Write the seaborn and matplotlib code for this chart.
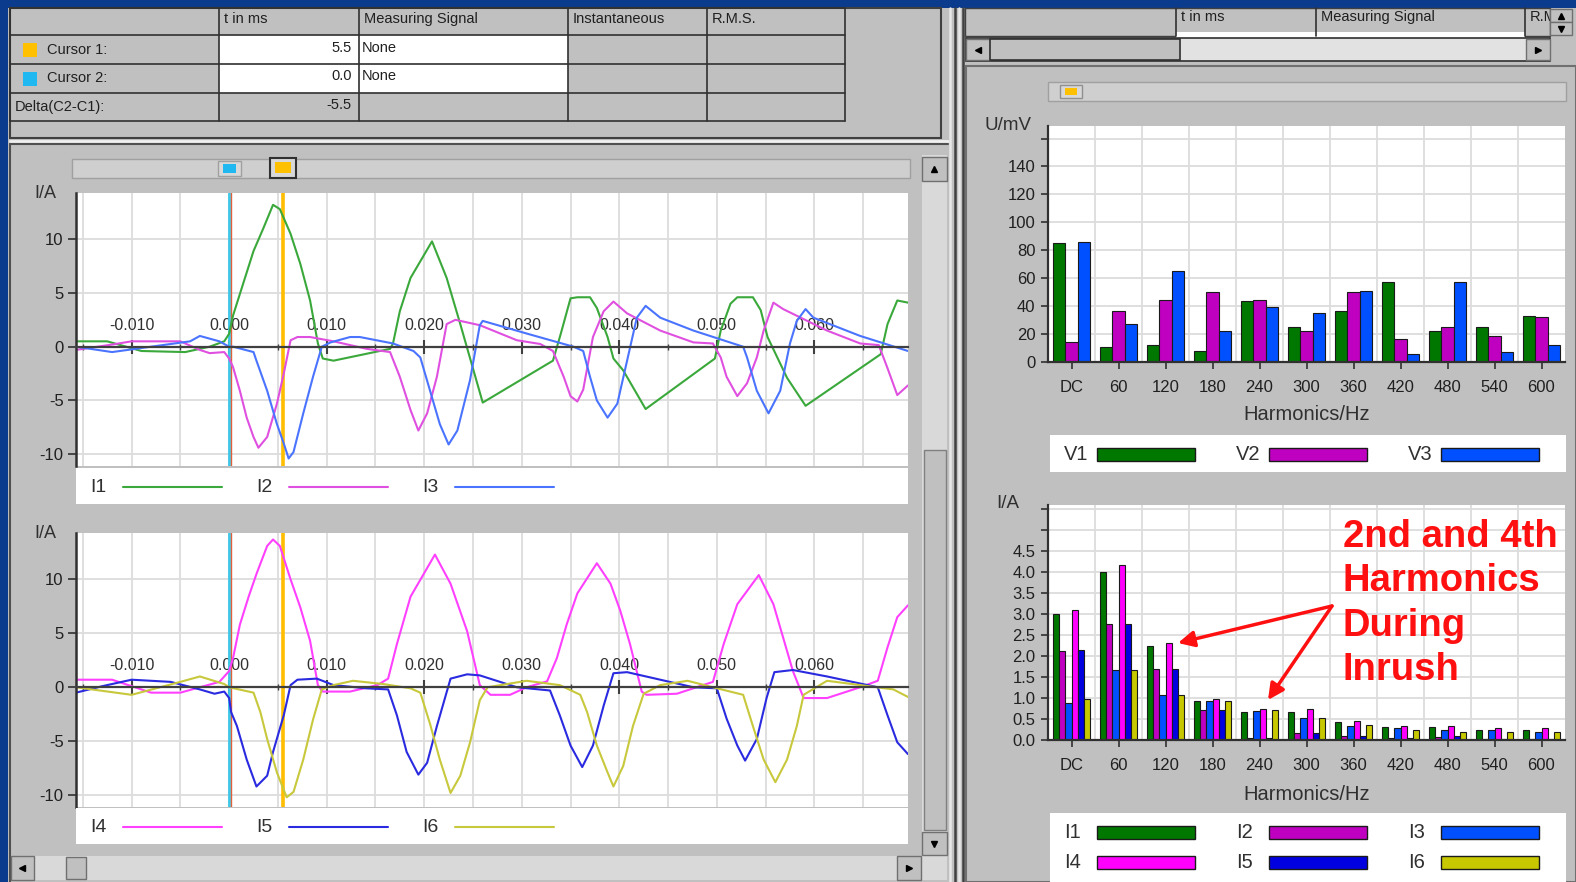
import numpy as np
import pandas as pd
import matplotlib
matplotlib.use('Agg')
import matplotlib.pyplot as plt
import matplotlib.transforms as mtransforms
from matplotlib.patches import Rectangle
import seaborn as sns

sns.set_style('white')
plt.rcParams['font.family'] = ['Liberation Sans', 'DejaVu Sans']
plt.rcParams['axes.unicode_minus'] = False

W, H = 1576, 882
BLUE = '#0b3b8c'
GRAY = '#c0c0c0'
LIGHT = '#d9d9d9'
GRID = '#dcdcdc'

# ---------------- cursor table
table_cols = ['t in ms', 'Measuring Signal', 'Instantaneous', 'R.M.S.']
cursor_names = ['Cursor 1:', 'Cursor 2:', 'Delta(C2-C1):']
cursor_t_ms = [5.5, 0.0, -5.5]
cursor_signal = ['None', 'None', '']
cursor_colors = ['#ffc000', '#20b8f0']

# ---------------- waveforms (t in ms, I in A)
i1_t = [-15.7, -12.5, -9, -4.5, -2, -0.5, 0, 0.4, 1.1, 2.5, 3.5, 4.5, 5.2, 6.3, 7.3, 8.3, 9.1, 9.6, 10.7,
        16.5, 16.8, 17.5, 18.6, 20.8, 22.3, 23.7, 26.0, 33.2, 34.0, 35.0, 35.7, 37.0, 37.7, 38.8, 39.4,
        40.4, 42.7, 49.8, 50.4, 51.4, 52.1, 53.7, 54.5, 55.2, 56.2, 57.2, 59.1, 66.8, 67.5, 68.5, 69.6]
i1_v = [0.5, 0.5, -0.4, -0.5, 0.0, 0.5, 1.2, 2.9, 4.9, 8.9, 11.0, 13.2, 12.8, 10.5, 7.7, 4.3, 0.3, -1.1, -1.3,
        -0.2, 0.3, 3.3, 6.4, 9.8, 6.4, 2.1, -5.2, -1.3, 1.2, 4.5, 4.6, 4.6, 3.6, 0.9, -1.1,
        -2.2, -5.8, -1.1, 1.5, 4.0, 4.6, 4.6, 3.4, 0.9, -1.0, -2.9, -5.5, -0.7, 2.1, 4.3, 4.1]

i2_t = [-15.7, -12, -10, -5, -3, -2, -0.5, 0, 0.4, 1.1, 1.8, 2.5, 3.0, 3.9, 4.9, 5.6, 6.3, 7.0, 8.3, 10.7,
        14.1, 16.5, 17.5, 18.6, 19.4, 20.3, 21.3, 22.3, 23.2, 25.7, 29.5, 31.9, 33.2, 34.3, 35.0, 35.7,
        36.3, 37.3, 38.4, 39.4, 40.8, 44.2, 47.6, 49.6, 50.4, 51.0, 52.1, 53.1, 54.1, 54.8, 55.8, 56.8,
        61.3, 64.7, 66.6, 67.5, 68.5, 69.6]
i2_v = [-0.3, 0.2, 0.5, 0.5, -0.3, -0.6, -0.5, -1.1, -1.9, -4.1, -6.6, -8.4, -9.4, -8.4, -5.3, -2.5, 0.6, 0.9, 0.9, 0.5,
        -0.2, -0.5, -2.8, -5.9, -7.8, -6.2, -2.8, 2.1, 2.5, 2.0, 0.6, 0.25, -0.4, -2.8, -4.6, -5.1,
        -4.0, 0.9, 3.3, 4.2, 3.1, 1.5, 0.4, 0.3, -1.0, -2.8, -4.6, -3.4, -1.0, 1.5, 4.1, 3.5,
        1.5, 0.3, 0.15, -2.0, -4.5, -3.6]

i3_t = [-15.7, -12, -8, -4, -3, -1, 0, 0.4, 2.5, 2.8, 3.9, 4.9, 5.6, 6.1, 6.6, 7.6, 8.6, 9.5, 10.4, 12.4, 13.4,
        16.8, 18.9, 19.6, 20.6, 21.6, 22.5, 23.4, 24.7, 25.7, 26.0, 30.6, 35.3, 36.3, 37.0, 37.7, 38.8,
        39.8, 40.8, 41.8, 42.7, 44.2, 47.6, 52.7, 53.1, 54.1, 55.3, 56.5, 57.5, 58.2, 59.1, 59.9, 64.7, 69.6]
i3_v = [0.0, -0.5, 0.0, 0.5, 1.0, 0.5, 0.0, 0.0, -0.5, -1.3, -4.1, -7.2, -9.0, -10.4, -9.8, -6.2, -2.8, 0.0, 0.4, 0.9, 0.9,
        0.3, -0.4, -1.0, -4.1, -7.2, -9.1, -7.8, -3.1, 2.0, 2.4, 1.2, 0.0, -0.4, -2.8, -5.0, -6.6,
        -5.3, -1.3, 2.7, 3.8, 2.7, 1.5, 0.0, -1.0, -4.1, -6.2, -4.1, 0.3, 2.4, 3.5, 2.7, 1.0, -0.4]

i4_t = [-15.7, -12, -8, -5, -3, -1, 0, 0.4, 1.1, 2.0, 2.8, 3.9, 4.5, 5.2, 6.3, 7.3, 8.3, 9.1, 9.6, 12.4, 15.2,
        16.3, 17.2, 18.6, 21.1, 22.7, 24.4, 25.7, 26.8, 28.8, 30.5, 32.6, 33.6, 34.6, 35.7, 37.7, 39.1,
        40.1, 41.1, 42.3, 42.8, 45.9, 49.6, 50.7, 52.1, 54.3, 55.8, 56.8, 57.8, 58.9, 61.3, 64.7, 66.5,
        67.5, 68.5, 69.6]
i4_v = [0.7, 0.7, -0.5, -0.5, 0.0, 0.5, 1.5, 2.7, 5.8, 8.4, 10.5, 13.1, 13.7, 13.1, 10.0, 7.4, 4.3, 0.2, -0.4, -0.4, 0.2,
        0.8, 4.0, 8.4, 12.3, 9.6, 5.2, 0.2, -0.7, -0.7, 0.0, 0.55, 2.7, 5.8, 8.7, 11.5, 9.6,
        7.1, 4.0, -0.4, -0.7, -0.6, 0.5, 4.0, 7.7, 10.4, 7.7, 4.6, 1.5, -1.0, -1.0, 0.0, 0.6,
        3.7, 6.5, 7.6]

i5_t = [-15.7, -13, -10, -6, -3, -1.5, -0.5, 0, 0.2, 0.8, 1.8, 2.8, 3.9, 4.5, 5.6, 6.3, 7.0, 9.0, 10.7, 14.1,
        16.3, 17.2, 18.2, 19.4, 20.3, 21.3, 22.7, 24.4, 25.7, 29.5, 32.9, 33.9, 35.0, 36.2, 37.3, 38.4,
        39.4, 40.8, 44.2, 47.6, 50.0, 51.0, 52.1, 52.9, 54.1, 55.1, 55.9, 57.8, 61.3, 66.5, 67.5, 68.5, 69.6]
i5_v = [-0.5, 0.1, 0.7, 0.5, -0.2, -0.6, -0.4, -1.0, -2.3, -3.6, -6.7, -9.2, -8.2, -6.0, -2.6, 0.2, 0.7, 0.8, 0.2, -0.1,
        -0.2, -2.6, -6.0, -8.1, -7.0, -3.6, 0.8, 1.2, 1.1, 0.0, -0.3, -2.6, -5.4, -7.4, -5.4, -1.7,
        1.3, 1.4, 0.7, 0.0, -0.1, -2.9, -5.4, -6.8, -4.8, -1.0, 1.4, 1.6, 1.0, 0.0, -2.6, -5.1, -6.2]

i6_t = [-15.7, -10, -5, -3, -0.5, 0, 2.5, 3.2, 3.9, 4.9, 5.9, 6.6, 7.6, 8.6, 9.5, 10.7, 12.7, 15.8, 18.6, 19.6,
        20.6, 21.6, 22.7, 23.7, 24.7, 25.7, 26.5, 30.5, 33.9, 36.0, 36.7, 37.7, 38.8, 39.4, 40.4, 41.4,
        42.5, 44.2, 47.0, 49.6, 52.7, 53.7, 54.8, 56.0, 57.2, 58.2, 58.9, 61.3, 64.7, 68.1, 69.6]
i6_v = [0.0, -0.7, 0.5, 1.0, 0.3, 0.0, -0.5, -2.3, -4.8, -7.9, -10.2, -9.7, -6.7, -3.0, -0.2, 0.2, 0.6, 0.3, -0.1, -0.5,
        -3.4, -6.7, -9.8, -8.2, -5.1, -1.2, 0.0, 0.6, 0.2, -0.7, -2.3, -5.4, -7.9, -9.2, -7.3, -3.6,
        -0.6, 0.2, 0.6, 0.0, -0.7, -3.6, -6.7, -8.8, -6.7, -3.6, -0.7, 0.6, 0.2, -0.2, -0.9]

wave_ticks = [-0.010, 0.000, 0.010, 0.020, 0.030, 0.040, 0.050, 0.060]
wave_ticklabels = ['-0.010', '0.000', '0.010', '0.020', '0.030', '0.040', '0.050', '0.060']
wave_yticks = [-10, -5, 0, 5, 10]

# ---------------- harmonics
harm_labels = ['DC', '60', '120', '180', '240', '300', '360', '420', '480', '540', '600']
v1_h = [85, 11, 12, 8, 43.5, 25, 36.5, 57, 22.5, 25, 33]
v2_h = [14.5, 36.5, 44.5, 50, 44.5, 22.5, 50, 16.5, 25, 18.5, 32]
v3_h = [86, 27, 65.5, 22, 39.5, 35, 51, 6, 57, 7, 12]
i1_h = [3.0, 4.0, 2.25, 0.94, 0.66, 0.66, 0.42, 0.32, 0.32, 0.24, 0.24]
i2_h = [2.11, 2.77, 1.69, 0.72, 0.04, 0.17, 0.10, 0.04, 0.08, 0.02, 0.02]
i3_h = [0.88, 1.67, 1.07, 0.94, 0.70, 0.52, 0.33, 0.28, 0.24, 0.25, 0.20]
i4_h = [3.1, 4.18, 2.32, 0.98, 0.73, 0.73, 0.46, 0.34, 0.34, 0.28, 0.28]
i5_h = [2.15, 2.77, 1.69, 0.72, 0.04, 0.17, 0.10, 0.05, 0.10, 0.03, 0.02]
i6_h = [0.98, 1.67, 1.07, 0.92, 0.72, 0.53, 0.36, 0.24, 0.20, 0.20, 0.20]

bar_colors = {'V1': '#007800', 'V2': '#c000c0', 'V3': '#0050ff',
              'I1': '#007800', 'I2': '#c000c0', 'I3': '#0050ff',
              'I4': '#ff00ff', 'I5': '#0000e0', 'I6': '#c8c800'}
wave_colors = {'I1': '#3aa83a', 'I2': '#e050e0', 'I3': '#4a74ff',
               'I4': '#ff40ff', 'I5': '#2a2ae0', 'I6': '#c8c83c'}


def frac(x0, y0, x1, y1):
    return [x0 / W, 1 - y1 / H, (x1 - x0) / W, (y1 - y0) / H]


fig = plt.figure(figsize=(15.76, 8.82), dpi=100, facecolor=BLUE)
bg = fig.add_axes([0, 0, 1, 1], zorder=0)
bg.set_xlim(0, W)
bg.set_ylim(H, 0)
bg.axis('off')


def rect(x0, y0, x1, y1, fc, ec='none', lw=0.0, z=1):
    bg.add_patch(Rectangle((x0, y0), x1 - x0, y1 - y0, facecolor=fc, edgecolor=ec, linewidth=lw, zorder=z))


def button(x0, y0, x1, y1, arrow=None):
    # scroll button with a small triangle drawn as a marker
    rect(x0, y0, x1, y1, GRAY, '#707070', 1.0, z=3)
    if arrow:
        bg.plot([(x0 + x1) / 2], [(y0 + y1) / 2], marker=arrow, ms=5, color='black', zorder=4)


# ---------------- window chrome
rect(8, 8, W, H, GRAY)
# splitter between the two panes
for x, c in [(950, '#e8e8e8'), (955, '#404040'), (959, '#e8e8e8'), (963, '#404040')]:
    bg.plot([x, x], [8, H], color=c, lw=1.8, zorder=5)

# left cursor table
rect(10, 8, 941, 138, GRAY, '#404040', 1.5)
rect(219, 35, 568, 93, 'white', z=2)
cols = [10, 219, 359, 568, 707, 845]
rows = [8, 35, 64, 93, 121]
for x in cols:
    bg.plot([x, x], [8, 121], color='#303030', lw=1.2, zorder=3)
for y in rows:
    bg.plot([10, 845], [y, y], color='#303030', lw=1.2, zorder=3)
for x, name in zip(cols[1:], table_cols):
    bg.text(x + 5, 19, name, va='center', fontsize=10.5, color='#202020', zorder=4)
for k, (name, tms, sig) in enumerate(zip(cursor_names, cursor_t_ms, cursor_signal)):
    yc = (rows[k + 1] + rows[k + 2]) / 2
    if k < 2:
        rect(23, yc - 7, 37, yc + 7, cursor_colors[k], z=3)
        bg.text(47, yc, name, va='center', fontsize=10.5, color='#202020', zorder=4)
    else:
        bg.text(15, yc, name, va='center', fontsize=10.5, color='#202020', zorder=4)
    bg.text(352, yc - 2, f'{tms:.1f}', va='center', ha='right', fontsize=10.5, color='#202020', zorder=4)
    bg.text(362, yc - 2, sig, va='center', fontsize=10.5, color='#202020', zorder=4)
bg.plot([10, 948], [141, 141], color='#f0f0f0', lw=2, zorder=3)
bg.plot([10, 948], [144, 144], color='#505050', lw=1.5, zorder=3)
bg.plot([10, 10], [144, H], color='#505050', lw=1.5, zorder=3)

# left chart pane
rect(72, 159, 910, 178, '#cfcfcf', '#a0a0a0', 1.0, z=2)
rect(218, 161, 241, 176, '#d8d8d8', '#a0a0a0', 1.0, z=3)
rect(223, 164, 236, 173, cursor_colors[1], z=4)
rect(270, 158, 296, 178, '#d8d8d8', '#303030', 1.5, z=3)
rect(275, 162, 291, 173, cursor_colors[0], z=4)
rect(922, 155, 947, 856, LIGHT, z=2)
button(922, 157, 947, 181, '^')
rect(924, 450, 946, 830, GRAY, '#808080', 1.0, z=3)
button(922, 832, 947, 855, 'v')
rect(11, 856, 947, 880, LIGHT, z=2)
button(11, 856, 34, 880, '<')
rect(66, 857, 86, 879, GRAY, '#707070', 1.0, z=3)
button(897, 856, 921, 880, '>')

# right top table
rect(965, 8, 1550, 36, GRAY, '#404040', 1.0, z=2)
rect(1176, 32, 1525, 38, 'white', z=2)
for x, name in zip([1176, 1316, 1525], ['t in ms', 'Measuring Signal', 'R.M.S.']):
    bg.plot([x, x], [8, 36], color='#303030', lw=1.2, zorder=3)
    t = bg.text(x + 5, 17, name, va='center', fontsize=10.5, color='#202020', zorder=2.5)
    if name == 'R.M.S.':
        t.set_clip_path(Rectangle((1525, 8), 22, 28, transform=bg.transData))
button(1550, 9, 1572, 22, '^')
button(1550, 22, 1572, 35, 'v')
rect(966, 38, 1550, 61, '#e2e2e2', '#303030', 1.2, z=2)
button(966, 39, 990, 60, '<')
rect(990, 39, 1180, 60, GRAY, '#303030', 1.2, z=3)
button(1526, 39, 1550, 60, '>')
rect(966, 66, W, H, GRAY, '#707070', 1.5, z=1.5)
rect(1048, 82, 1566, 101, '#cfcfcf', '#a0a0a0', 1.0, z=2)
rect(1060, 85, 1082, 98, '#d8d8d8', '#909090', 1.0, z=3)
rect(1065, 88, 1077, 95, cursor_colors[0], z=4)


# ---------------- waveform charts
def wave_chart(box, names, t_lists, v_lists, leg_box, ylab_y, ts_y):
    ax = fig.add_axes(frac(*box), zorder=2)
    ax.set_facecolor('white')
    rows_ = []
    for nm, tl, vl in zip(names, t_lists, v_lists):
        rows_ += [{'t': t / 1000.0, 'I': v, 'sig': nm} for t, v in zip(tl, vl)]
    df = pd.DataFrame(rows_)
    ax.axvline(cursor_t_ms[1] / 1000.0, color='#3cc8e8', lw=2.0, zorder=1.5)
    shift = mtransforms.offset_copy(ax.transData, fig=fig, x=2, y=0, units='dots')
    ax.plot([cursor_t_ms[1] / 1000.0] * 2, [-11.1, 14.5], color='#e0603a', lw=1.0, zorder=1.6,
            transform=mtransforms.blended_transform_factory(shift, ax.transData))
    ax.axvline(cursor_t_ms[0] / 1000.0, color='#ffbe00', lw=2.6, zorder=1.5)
    sns.lineplot(data=df, x='t', y='I', hue='sig', hue_order=names,
                 palette=[wave_colors[n] for n in names], estimator=None, sort=False,
                 legend=False, lw=1.5, ax=ax)
    ax.set_xlim(-0.0157, 0.0696)
    ax.set_ylim(-11.1, 14.3)
    ax.set_xlabel('')
    ax.set_ylabel('')
    ax.spines['top'].set_visible(False)
    ax.spines['right'].set_visible(False)
    ax.spines['bottom'].set_position(('data', 0))
    ax.spines['bottom'].set_color('#404040')
    ax.spines['bottom'].set_linewidth(1.6)
    ax.spines['left'].set_color('#303030')
    ax.spines['left'].set_linewidth(1.8)
    ax.set_xticks(wave_ticks, wave_ticklabels)
    ax.set_xticks(np.arange(-0.015, 0.0696, 0.005), minor=True)
    ax.set_yticks(wave_yticks, [str(v) for v in wave_yticks])
    ax.tick_params(axis='x', which='major', direction='inout', length=10, width=1.5, pad=-26,
                   labelsize=11.5, color='#404040', labelcolor='#303030', bottom=True)
    ax.tick_params(axis='x', which='minor', direction='inout', length=5, width=1.0, color='#404040', bottom=True)
    ax.tick_params(axis='y', direction='out', length=6, width=1.2, pad=3, labelsize=12,
                   color='#303030', labelcolor='#202020', left=True)
    ax.grid(which='both', axis='x', color=GRID, lw=1.3)
    ax.grid(which='major', axis='y', color=GRID, lw=1.3)
    ax.set_axisbelow(True)
    bg.text(45, ylab_y, 'I/A', ha='center', va='center', fontsize=13, color='#303030')
    bg.text(884, ts_y, 't/s', ha='center', va='center', fontsize=12.5, color='#303030', zorder=0)

    lg = fig.add_axes(frac(*leg_box), zorder=2)
    lg.set_xlim(leg_box[0], leg_box[2])
    lg.set_ylim(0, 1)
    lg.set_xticks([])
    lg.set_yticks([])
    for sp in lg.spines.values():
        sp.set_visible(False)
    for k, nm in enumerate(names):
        x = 90 + 166 * k
        lg.text(x, 0.47, nm, va='center', fontsize=14, color='#303030')
        lg.plot([x + 33, x + 132], [0.47, 0.47], color=wave_colors[nm], lw=1.5)
    return ax


ax1 = wave_chart((76, 193, 908, 466), ['I1', 'I2', 'I3'], [i1_t, i2_t, i3_t], [i1_v, i2_v, i3_v],
                 (76, 468, 908, 504), 194, 314)
ax2 = wave_chart((76, 533, 908, 807), ['I4', 'I5', 'I6'], [i4_t, i5_t, i6_t], [i4_v, i5_v, i6_v],
                 (76, 808, 908, 844), 534, 655)


# ---------------- harmonic bar charts
def harm_chart(box, names, series, ylim, yticks, ylabels, ylab, xlab_y):
    ax = fig.add_axes(frac(*box), zorder=2)
    ax.set_facecolor('white')
    df = pd.DataFrame([{'freq': f, 'val': v, 'sig': nm}
                       for nm, vals in zip(names, series) for f, v in zip(harm_labels, vals)])
    sns.barplot(data=df, x='freq', y='val', hue='sig', order=harm_labels, hue_order=names,
                palette=[bar_colors[n] for n in names], saturation=1, width=0.8, gap=0,
                edgecolor='#1a1a1a', linewidth=0.8, legend=False, ax=ax)
    ax.set_xlim(-0.5, 10.5)
    ax.set_ylim(*ylim)
    ax.set_xlabel('')
    ax.set_ylabel('')
    ax.set_yticks(yticks, ylabels)
    ax.set_xticks(np.arange(0.5, 10, 1.0), minor=True)
    ax.grid(which='minor', axis='x', color=GRID, lw=1.3)
    ax.grid(which='major', axis='y', color=GRID, lw=1.3)
    ax.grid(which='major', axis='x', visible=False)
    ax.set_axisbelow(True)
    for s in ['top', 'right']:
        ax.spines[s].set_visible(False)
    for s in ['left', 'bottom']:
        ax.spines[s].set_color('#303030')
        ax.spines[s].set_linewidth(1.6)
    ax.tick_params(axis='x', which='major', direction='out', length=5, width=1.2, pad=8,
                   labelsize=12, color='#303030', labelcolor='#202020', bottom=True)
    ax.tick_params(axis='x', which='minor', length=0)
    ax.tick_params(axis='y', direction='out', length=5, width=1.2, pad=4, labelsize=12,
                   color='#303030', labelcolor='#202020', left=True)
    bg.text(1307, xlab_y, 'Harmonics/Hz', ha='center', va='center', fontsize=14.5, color='#303030')
    bg.text(box[0] - 40, box[1] - 1, ylab, ha='center', va='center', fontsize=13.5, color='#303030')
    return ax


v_ticks = [0, 20, 40, 60, 80, 100, 120, 140, 160]
axv = harm_chart((1048, 126, 1565, 362), ['V1', 'V2', 'V3'], [v1_h, v2_h, v3_h], (0, 169),
                 v_ticks, [str(v) if v <= 140 else '' for v in v_ticks], 'U/mV', 415)
i_ticks = [0.0, 0.5, 1.0, 1.5, 2.0, 2.5, 3.0, 3.5, 4.0, 4.5, 5.0, 5.5]
axi = harm_chart((1048, 505, 1565, 740), ['I1', 'I2', 'I3', 'I4', 'I5', 'I6'],
                 [i1_h, i2_h, i3_h, i4_h, i5_h, i6_h], (0, 5.6),
                 i_ticks, [f'{v:.1f}' if v <= 4.5 else '' for v in i_ticks], 'I/A', 794)


def bar_legend(box, items, row_ys):
    lg = fig.add_axes(frac(*box), zorder=2)
    lg.set_xlim(box[0], box[2])
    lg.set_ylim(box[3], box[1])
    lg.set_xticks([])
    lg.set_yticks([])
    for sp in lg.spines.values():
        sp.set_visible(False)
    for k, nm in enumerate(items):
        x = 1064 + 172 * (k % 3)
        y = row_ys[k // 3]
        lg.text(x, y, nm, va='center', fontsize=14.5, color='#303030')
        lg.add_patch(Rectangle((x + 33, y - 6.5), 98, 13, facecolor=bar_colors[nm],
                               edgecolor='#1a1a1a', linewidth=1.0))


bar_legend((1050, 435, 1566, 472), ['V1', 'V2', 'V3'], [454])
bar_legend((1050, 813, 1566, 882), ['I1', 'I2', 'I3', 'I4', 'I5', 'I6'], [832, 862])

# ---------------- annotation
ov = fig.add_axes([0, 0, 1, 1], zorder=6)
ov.set_xlim(0, W)
ov.set_ylim(H, 0)
ov.axis('off')
ov.text(1343, 519, '2nd and 4th\nHarmonics\nDuring\nInrush', va='top', ha='left', fontsize=27.5,
        fontweight='bold', color='#ff1010', linespacing=1.3)
for tip in [(1178, 643), (1268, 700)]:
    ov.annotate('', xy=tip, xytext=(1332, 606),
                arrowprops=dict(arrowstyle='-|>', color='#ff1010', lw=2.5, mutation_scale=24,
                                shrinkA=0, shrinkB=0))

fig.savefig('out.png', dpi=100, facecolor=BLUE)
